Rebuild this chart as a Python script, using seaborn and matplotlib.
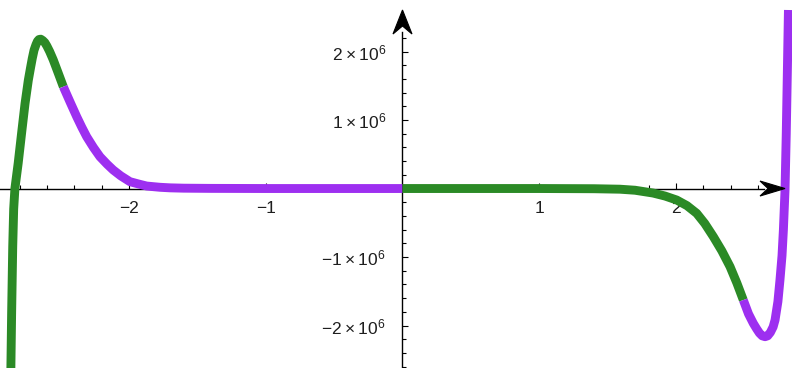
import matplotlib
matplotlib.use("Agg")
import numpy as np
import pandas as pd
import seaborn as sns
import matplotlib.pyplot as plt
from matplotlib.ticker import FixedLocator
from matplotlib.patches import Polygon
from matplotlib.transforms import IdentityTransform

sns.set_style("white")
plt.rcParams["font.family"] = ["Liberation Sans", "DejaVu Sans"]
plt.rcParams["mathtext.fontset"] = "custom"
plt.rcParams["mathtext.rm"] = "Liberation Sans"

# Curve samples (y in millions), split where the concavity changes
x_left_down = [-2.864, -2.858, -2.850, -2.843, -2.834, -2.810, -2.785, -2.760,
               -2.736, -2.720, -2.707, -2.694, -2.680, -2.669, -2.658, -2.645,
               -2.630, -2.615, -2.600, -2.580, -2.554, -2.520, -2.480]
y_left_down = [-2.70, -1.82, -0.85, -0.30, 0.00, 0.37, 0.81, 1.24,
               1.58, 1.76, 1.90, 2.02, 2.10, 2.15, 2.175, 2.18,
               2.16, 2.13, 2.08, 2.00, 1.88, 1.70, 1.486]

x_left_up = [-2.480, -2.430, -2.382, -2.345, -2.309, -2.260, -2.212, -2.160, -2.115,
             -2.060, -1.993, -1.930, -1.870, -1.773, -1.700, -1.600, -1.400,
             -1.000, -0.500, 0.000]
y_left_up = [1.486, 1.26, 1.048, 0.895, 0.756, 0.60, 0.464, 0.355, 0.27,
             0.185, 0.10, 0.066, 0.036, 0.018, 0.010, 0.005, 0.002,
             0.0, 0.0, 0.0]

x_right_down = [0.000, 0.500, 1.000, 1.400, 1.590, 1.700, 1.832, 1.920, 2.005,
                2.080, 2.151, 2.210, 2.273, 2.335, 2.395, 2.445, 2.492]
y_right_down = [0.0, 0.0, 0.0, -0.003, -0.010, -0.025, -0.066, -0.11, -0.168,
                -0.25, -0.362, -0.51, -0.703, -0.91, -1.141, -1.38, -1.628]

x_right_up = [2.492, 2.530, 2.565, 2.590, 2.610, 2.630, 2.651, 2.670, 2.690,
              2.710, 2.724, 2.745, 2.760, 2.775, 2.785, 2.797, 2.806, 2.814, 2.822]
y_right_up = [-1.628, -1.83, -1.968, -2.05, -2.11, -2.15, -2.163, -2.15, -2.10,
              -2.02, -1.92, -1.65, -1.336, -0.98, -0.606, -0.02, 0.80, 1.70, 2.606]

x_tick_values = [-2, -1, 1, 2]
x_tick_labels = ["\u22122", "\u22121", "1", "2"]
y_tick_values = [-2e6, -1e6, 1e6, 2e6]
y_tick_labels = [r"$\mathregular{-2\times10^{6}}$", r"$\mathregular{-1\times10^{6}}$",
                 r"$\mathregular{1\times10^{6}}$", r"$\mathregular{2\times10^{6}}$"]

GREEN = "#2b8a26"
PURPLE = "#9d2ff0"

parts = [
    ("left, concave down", x_left_down, y_left_down, GREEN),
    ("left, concave up", x_left_up, y_left_up, PURPLE),
    ("right, concave down", x_right_down, y_right_down, GREEN),
    ("right, concave up", x_right_up, y_right_up, PURPLE),
]
df = pd.concat(
    [pd.DataFrame({"x": xs, "y": np.array(ys) * 1e6, "part": name})
     for name, xs, ys, _ in parts],
    ignore_index=True,
)
palette = {name: c for name, _, _, c in parts}

fig = plt.figure(figsize=(7.92, 3.68), dpi=100)
ax = fig.add_axes([0, 0, 1, 1])
ax.set_facecolor("white")

sns.lineplot(data=df, x="x", y="y", hue="part", palette=palette, sort=False,
             estimator=None, lw=6.4, legend=False, ax=ax, zorder=3,
             solid_capstyle="butt", solid_joinstyle="round")

x_min, x_max = -2.943, 2.848
y_min, y_max = -2.620e6, 2.752e6
ax.set_xlim(x_min, x_max)
ax.set_ylim(y_min, y_max)
ax.set_xlabel("")
ax.set_ylabel("")

x_tip, y_tip = 2.797, 2.606e6
for side in ("top", "right"):
    ax.spines[side].set_visible(False)
ax.spines["left"].set_position(("data", 0))
ax.spines["bottom"].set_position(("data", 0))
ax.spines["bottom"].set_bounds(x_min, 2.64)
ax.spines["left"].set_bounds(y_min, 2.28e6)
for side in ("left", "bottom"):
    ax.spines[side].set_color("black")
    ax.spines[side].set_linewidth(1.0)
    ax.spines[side].set_zorder(2)

ax.xaxis.set_major_locator(FixedLocator(x_tick_values))
ax.set_xticklabels(x_tick_labels)
ax.xaxis.set_minor_locator(FixedLocator(np.round(np.arange(-2.8, 2.61, 0.2), 1)))
ax.yaxis.set_major_locator(FixedLocator(y_tick_values))
ax.set_yticklabels(y_tick_labels)
ax.yaxis.set_minor_locator(FixedLocator(np.arange(-2.6e6, 2.21e6, 0.2e6)))

ax.tick_params(axis="both", which="both", direction="in", color="black",
               labelcolor="#1e1e1e", labelsize=12.5, bottom=True, left=True)
ax.tick_params(axis="both", which="major", length=4.5, width=0.8)
ax.tick_params(axis="both", which="minor", length=3.0, width=0.8)
ax.tick_params(axis="x", which="both", pad=9)
ax.tick_params(axis="y", which="both", pad=12)

# Notched arrowheads at the ends of both axes (pixel geometry)
tx, ty = ax.transData.transform((x_tip, 0))
fig.add_artist(Polygon([(tx, ty), (tx - 25, ty + 7.5), (tx - 17, ty), (tx - 25, ty - 7.5)],
                       closed=True, facecolor="black", edgecolor="black", lw=0.8,
                       transform=IdentityTransform(), zorder=2))
ux, uy = ax.transData.transform((0, y_tip))
fig.add_artist(Polygon([(ux, uy), (ux - 9.5, uy - 24), (ux, uy - 16), (ux + 9.5, uy - 24)],
                       closed=True, facecolor="black", edgecolor="black", lw=0.8,
                       transform=IdentityTransform(), zorder=2))

fig.savefig("out.png", dpi=100, facecolor="white")
